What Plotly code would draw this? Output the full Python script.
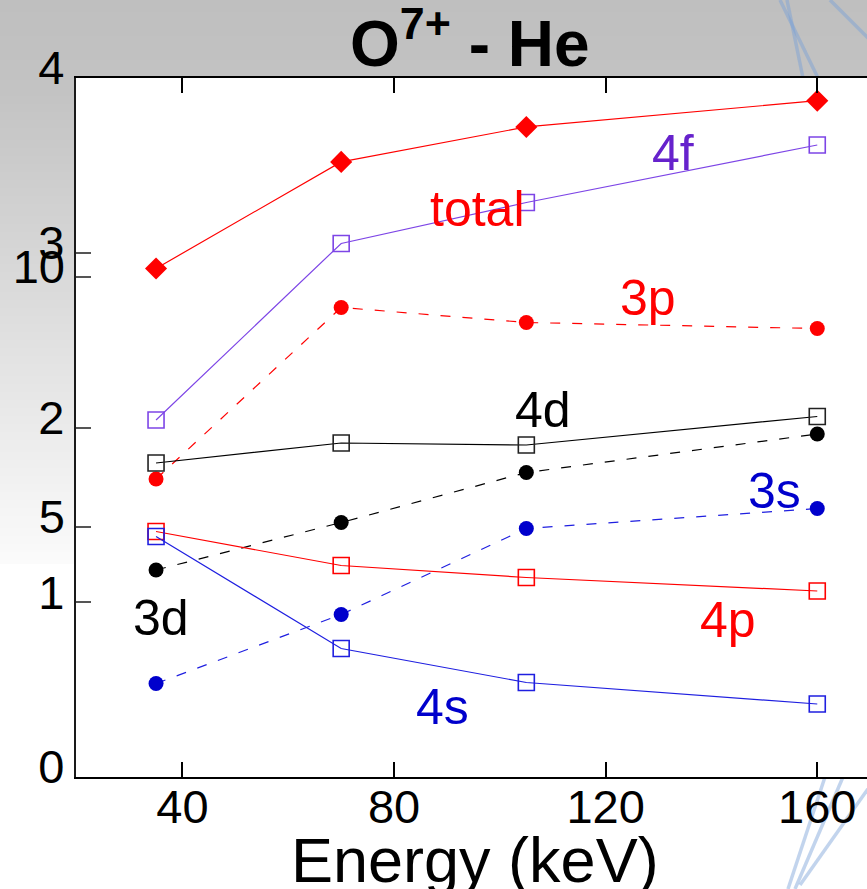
import plotly.graph_objects as go

# ---------------- data ----------------
energy = [35, 70, 105, 160]
total = [2.91, 3.52, 3.72, 3.87]          # left axis (0-4)
s4f = [7.14, 10.67, 11.49, 12.64]         # second axis (0-14)
s3p = [5.96, 9.39, 9.09, 8.97]
s4d = [6.28, 6.68, 6.64, 7.21]
s3d = [4.14, 5.09, 6.09, 6.86]
s3s = [1.87, 3.25, 4.97, 5.37]
s4p = [4.91, 4.23, 3.99, 3.72]
s4s = [4.81, 2.57, 1.89, 1.46]

x_ticks = [40, 80, 120, 160]
y_ticks = [0, 1, 2, 3, 4]
y2_ticks = [5, 10]

label_names = ["total", "4f", "3p", "4d", "3s", "4p", "3d", "4s"]
label_x = [95.7, 132.7, 128.0, 108.1, 152.0, 143.1, 35.9, 89.2]
label_y = [11.36, 12.48, 9.58, 7.34, 5.72, 3.14, 3.18, 1.40]
label_colors = ["#ff0000", "#6622cc", "#ff0000", "#000000", "#0000cc", "#ff0000", "#000000", "#0000cc"]

RED = "#ff0000"
PURPLE = "#7d45e6"
BLUE = "#1f1fe0"
BLUE_F = "#0000cc"
BLACK = "#000000"

TICKFONT = dict(family="Liberation Sans Narrow, Arial Narrow, Liberation Sans, Arial", size=47, color="black")
LABFONT = "Liberation Sans, Arial, sans-serif"

W, H = 867, 889
ML, MR, MT, MB = 76, 0, 78, 112
PW = W - ML - MR
PH = H - MT - MB


def px2paper(px, py):
    return (px - ML) / PW, (H - MB - py) / PH


fig = go.Figure()

# total (filled diamonds, left axis)
fig.add_trace(go.Scatter(x=energy, y=total, mode="lines+markers", yaxis="y",
                         line=dict(color=RED, width=1.2),
                         marker=dict(symbol="diamond", size=17, color=RED)))
# 4f
fig.add_trace(go.Scatter(x=energy, y=s4f, mode="lines+markers", yaxis="y2",
                         line=dict(color=PURPLE, width=1.2),
                         marker=dict(symbol="square-open", size=16, color=PURPLE, line=dict(width=1.6))))
# 3p
fig.add_trace(go.Scatter(x=energy, y=s3p, mode="lines+markers", yaxis="y2",
                         line=dict(color=RED, width=1.2, dash="10px,12px"),
                         marker=dict(symbol="circle", size=15, color=RED)))
# 4d
fig.add_trace(go.Scatter(x=energy, y=s4d, mode="lines+markers", yaxis="y2",
                         line=dict(color=BLACK, width=1.2),
                         marker=dict(symbol="square-open", size=16, color="#222222", line=dict(width=1.6))))
# 3d
fig.add_trace(go.Scatter(x=energy, y=s3d, mode="lines+markers", yaxis="y2",
                         line=dict(color=BLACK, width=1.2, dash="10px,12px"),
                         marker=dict(symbol="circle", size=15, color=BLACK)))
# 3s
fig.add_trace(go.Scatter(x=energy, y=s3s, mode="lines+markers", yaxis="y2",
                         line=dict(color=BLUE, width=1.2, dash="10px,12px"),
                         marker=dict(symbol="circle", size=15, color=BLUE_F)))
# 4p
fig.add_trace(go.Scatter(x=energy, y=s4p, mode="lines+markers", yaxis="y2",
                         line=dict(color=RED, width=1.2),
                         marker=dict(symbol="square-open", size=16, color=RED, line=dict(width=1.6))))
# 4s
fig.add_trace(go.Scatter(x=energy, y=s4s, mode="lines+markers", yaxis="y2",
                         line=dict(color=BLUE, width=1.2),
                         marker=dict(symbol="square-open", size=16, color=BLUE, line=dict(width=1.6))))

# ---------------- background decoration ----------------
shapes = []
# vertical gray gradient (slide background)
step = 4
for py in range(0, 564, step):
    if py < 90:
        g = 191 + (py / 90.0) * 4
    else:
        g = 195 + (py - 90) / (562 - 90) * 56
    g = int(round(min(g, 255)))
    _, y1 = px2paper(0, py)
    _, y0 = px2paper(0, py + step)
    shapes.append(dict(type="rect", xref="paper", yref="paper", x0=-0.2, x1=1.1, y0=y0, y1=y1,
                       fillcolor=f"rgb({g},{g},{g})", line=dict(width=0), layer="below"))

# decorative light-blue curves on the right
deco = [((780, 0), (818, 78)), ((787, 0), (803, 78)), ((830, 0), (870, 40)),
        ((825, 777), (788, 889)), ((843, 777), (795, 889)), ((870, 786), (800, 885))]
for (ax, ay), (bx, by) in deco:
    x0, y0 = px2paper(ax, ay)
    x1, y1 = px2paper(bx, by)
    shapes.append(dict(type="line", xref="paper", yref="paper", x0=x0, y0=y0, x1=x1, y1=y1,
                       line=dict(color="rgba(120,160,215,0.45)", width=3.5), layer="below"))

# white plotting area
shapes.append(dict(type="rect", xref="paper", yref="paper", x0=0, x1=1, y0=0, y1=1,
                   fillcolor="white", line=dict(width=0), layer="below"))

# ---------------- annotations ----------------
annotations = []
for name, lx, ly, c in zip(label_names, label_x, label_y, label_colors):
    annotations.append(dict(x=lx, y=ly, xref="x", yref="y2", text=name, showarrow=False,
                            font=dict(family=LABFONT, size=50, color=c),
                            xanchor="center", yanchor="middle"))

tx, _ = px2paper(470, 0)
annotations.append(dict(x=tx, y=1, xref="paper", yref="paper", text="<b>O<sup>7+</sup> - He</b>",
                        showarrow=False, xanchor="center", yanchor="bottom", yshift=-4,
                        font=dict(family=LABFONT, size=64, color="black")))

etx, ety = px2paper(475, 860)
annotations.append(dict(x=etx, y=ety, xref="paper", yref="paper", text="Energy (keV)",
                        showarrow=False, xanchor="center", yanchor="middle",
                        font=dict(family=LABFONT, size=63, color="black")))

fig.update_layout(
    width=W, height=H, autosize=False,
    margin=dict(l=ML, r=MR, t=MT, b=MB, pad=0),
    paper_bgcolor="white", plot_bgcolor="white",
    showlegend=False,
    shapes=shapes, annotations=annotations,
    xaxis=dict(range=[19.87, 169.4], tickvals=x_ticks, ticktext=[str(v) for v in x_ticks],
               ticks="inside", ticklen=15, tickwidth=1.5, tickcolor="black",
               showline=True, linecolor="black", linewidth=2, mirror="ticks",
               showgrid=False, zeroline=False, tickfont=TICKFONT, ticklabelstandoff=-12),
    yaxis=dict(range=[0, 4], tickvals=y_ticks, ticktext=[str(v) for v in y_ticks],
               ticks="inside", ticklen=15, tickwidth=1.5, tickcolor="#555555",
               showline=True, linecolor="#1a1a1a", linewidth=2.3,
               showgrid=False, zeroline=False, tickfont=TICKFONT,
               ticklabelshift=-10, ticklabelstandoff=0),
    yaxis2=dict(range=[0, 13.98], tickvals=y2_ticks, ticktext=[str(v) for v in y2_ticks],
                overlaying="y", side="left", anchor="x",
                ticks="inside", ticklen=15, tickwidth=1.5, tickcolor="#555555",
                showline=False, showgrid=False, zeroline=False, tickfont=TICKFONT,
                ticklabelshift=-10, ticklabelstandoff=10),
    yaxis3=dict(range=[0, 4], tickvals=y_ticks, overlaying="y", side="right", anchor="x",
                ticks="inside", ticklen=15, tickwidth=1.5, tickcolor="#555555",
                showline=False, showgrid=False, zeroline=False, showticklabels=False),
    yaxis4=dict(range=[0, 13.98], tickvals=y2_ticks, overlaying="y", side="right", anchor="x",
                ticks="inside", ticklen=15, tickwidth=1.5, tickcolor="#555555",
                showline=False, showgrid=False, zeroline=False, showticklabels=False),
)

fig.write_html("out.html")
